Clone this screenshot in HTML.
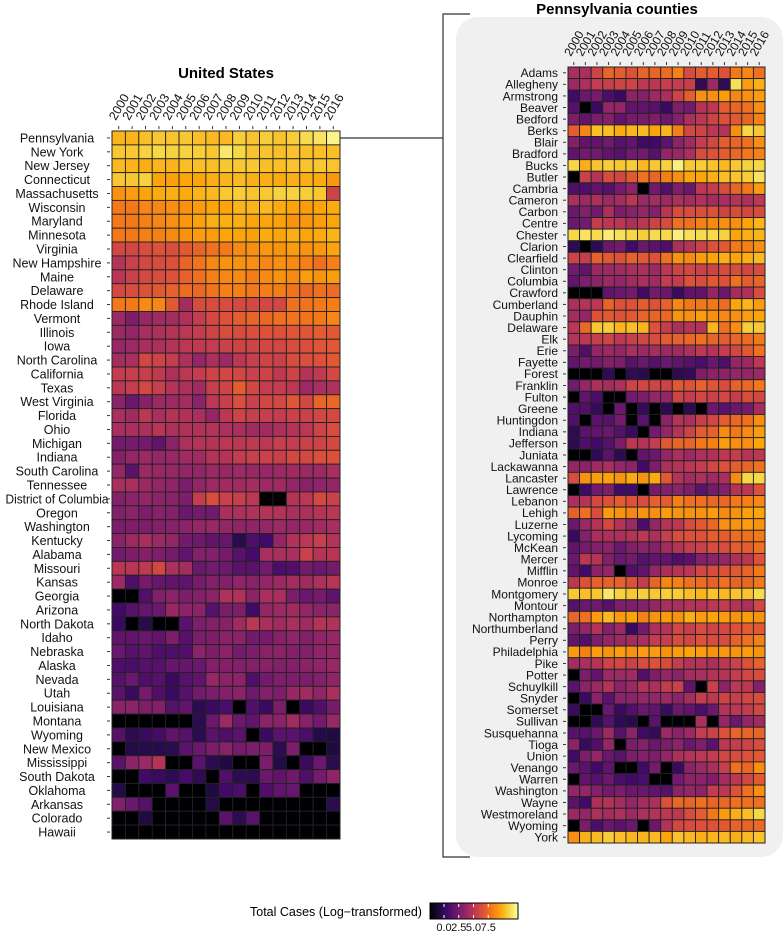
<!DOCTYPE html>
<html><head><meta charset="utf-8">
<style>
html,body{margin:0;padding:0;background:#fff;}
svg{display:block;font-family:"Liberation Sans",Arial,sans-serif;}
</style></head>
<body>
<svg id="chart" width="784" height="934" viewBox="0 0 784 934">
  <defs>
    <linearGradient id="inferno" x1="0" x2="1" y1="0" y2="0">
      <stop offset="0" stop-color="#000004"/><stop offset="0.1" stop-color="#160b39"/>
      <stop offset="0.2" stop-color="#420a68"/><stop offset="0.3" stop-color="#6a176e"/>
      <stop offset="0.4" stop-color="#932667"/><stop offset="0.5" stop-color="#bc3754"/>
      <stop offset="0.6" stop-color="#dd513a"/><stop offset="0.7" stop-color="#f37819"/>
      <stop offset="0.8" stop-color="#fca50a"/><stop offset="0.9" stop-color="#f6d746"/>
      <stop offset="1" stop-color="#fcffa4"/>
    </linearGradient>
  </defs>
  <rect x="456" y="17" width="327" height="840" rx="22" fill="#f0f0f0"/>
  <path d="M470 14 H443 V857 H470" fill="none" stroke="#333" stroke-width="1.2"/>
  <line x1="340" y1="138" x2="443" y2="138" stroke="#333" stroke-width="1.2"/>
  <text x="226" y="78" text-anchor="middle" font-size="15" font-weight="bold">United States</text>
  <text x="617" y="14" text-anchor="middle" font-size="15" font-weight="bold">Pennsylvania counties</text>
  <g id="us"></g>
  <g id="pa"></g>
  <g>
    <text x="250" y="916" font-size="12.5">Total Cases (Log−transformed)</text>
    <rect x="430" y="903" width="88" height="16" fill="url(#inferno)" stroke="#000" stroke-width="1"/>
    <g id="legendticks"></g>
  </g>
</svg>
<script>
const years = ["2000","2001","2002","2003","2004","2005","2006","2007","2008","2009","2010","2011","2012","2013","2014","2015","2016"];
const usStates = ["Pennsylvania","New York","New Jersey","Connecticut","Massachusetts","Wisconsin","Maryland","Minnesota","Virginia","New Hampshire","Maine","Delaware","Rhode Island","Vermont","Illinois","Iowa","North Carolina","California","Texas","West Virginia","Florida","Ohio","Michigan","Indiana","South Carolina","Tennessee","District of Columbia","Oregon","Washington","Kentucky","Alabama","Missouri","Kansas","Georgia","Arizona","North Dakota","Idaho","Nebraska","Alaska","Nevada","Utah","Louisiana","Montana","Wyoming","New Mexico","Mississippi","South Dakota","Oklahoma","Arkansas","Colorado","Hawaii"];
const usValues = [
[8.3,8.3,8.5,8.7,8.6,8.7,8.5,8.4,8.4,8.8,8.6,8.8,8.6,8.8,9.1,9.3,9.7],
[8.7,8.7,8.9,9,8.9,8.9,8.8,8.7,9.4,9,8.6,8.6,8.5,8.6,8.5,8.5,8.5],
[8.4,8.3,8.2,8.3,8.3,8.5,8.5,8.5,8.7,8.7,8.7,8.5,8.5,8.6,8.6,8.7,8.6],
[8.7,8.7,8.9,8.0,7.9,8.0,8.0,8.2,8.3,8.4,8.2,8.2,8.1,8.2,8.2,8.1,7.7],
[7.6,7.8,8.0,8.1,8.2,8.1,8.3,8.4,8.7,8.8,8.6,8.7,8.9,8.9,8.8,8.7,5.5],
[7.0,7.0,7.3,7.3,7.5,7.6,7.8,8.0,8.0,8.3,8.3,8.4,8.1,8.0,7.8,8.0,8.1],
[7.0,7.0,7.2,7.3,7.5,7.7,7.9,8.2,8.2,8.2,8.0,8.0,7.9,7.6,7.7,7.8,8.0],
[7.0,7.0,7.2,7.2,7.4,7.6,7.8,7.8,8.0,8.0,7.9,8.1,8.0,8.2,8.0,8.1,8.3],
[5.6,5.6,5.9,6.0,5.9,6.2,6.5,6.8,7.0,7.4,7.5,7.7,7.6,7.8,7.6,7.7,8.0],
[4.8,5.4,5.7,5.8,6.0,6.5,6.9,7.3,7.6,7.6,7.5,7.3,7.5,7.4,7.2,6.8,7.2],
[4.9,5.4,5.7,5.8,6.0,6.4,6.8,7.2,7.3,7.4,7.1,7.4,7.6,7.4,7.8,7.6,7.8],
[5.7,5.8,6.0,6.2,6.4,6.7,6.6,6.9,7.2,7.2,7.0,7.1,7.1,6.9,6.6,6.8,6.7],
[7.0,7.0,7.4,7.3,6.2,4.4,5.8,5.8,5.8,5.7,5.7,5.6,5.6,6.8,6.9,7.0,7.1],
[4.2,3.5,4.1,4.3,4.4,4.7,5.2,5.7,6.0,6.3,6.5,6.6,6.8,6.9,6.9,7.0,7.3],
[4.2,4.0,4.5,4.6,4.8,5.0,5.2,5.5,5.8,5.8,5.9,6.0,6.0,6.1,6.1,6.3,6.2],
[4.1,4.2,4.5,4.6,4.8,5.0,5.1,5.2,5.4,5.5,5.5,5.6,5.6,5.8,5.9,6.1,6.2],
[4.4,4.5,5.6,5.5,5.2,4.6,4.0,4.6,4.2,5.0,5.3,5.5,5.4,5.8,5.9,6.0,6.2],
[5.2,5.3,5.3,5.1,4.6,5.0,5.2,5.5,5.6,5.6,5.4,5.5,5.1,5.5,4.8,5.1,5.7],
[5.0,5.2,5.7,5.3,4.8,4.6,4.3,5.3,5.5,6.3,5.6,5.2,5.2,5.0,4.2,4.5,4.7],
[3.8,3.0,3.7,4.2,4.2,4.4,3.8,5.0,5.3,5.9,5.4,5.6,5.7,6.1,5.6,6.5,6.6],
[4.5,4.3,5.0,4.5,4.8,4.7,4.5,4.0,5.0,5.5,5.3,5.3,5.2,5.4,5.4,5.6,5.7],
[4.5,4.5,4.6,4.9,4.6,4.7,4.7,4.8,4.6,4.5,4.3,4.3,4.6,4.8,5.0,5.5,5.8],
[3.3,3.3,3.2,2.8,3.8,4.6,4.8,4.8,5.0,5.0,5.1,5.0,5.3,5.2,5.4,5.5,5.7],
[3.6,4.0,4.2,4.0,4.1,4.3,4.3,4.8,4.8,5.2,5.3,5.4,5.3,5.7,5.7,5.9,6.0],
[4.0,2.6,4.2,4.1,4.1,4.0,4.0,4.2,4.1,4.2,4.1,4.1,4.2,4.3,4.2,4.2,4.5],
[4.5,4.5,4.2,4.0,3.9,3.4,4.0,4.2,4.3,4.3,4.4,4.2,4.3,4.0,3.7,3.9,4.0],
[3.6,3.8,4.0,3.8,3.7,3.5,5.2,5.8,5.4,5.3,5.0,0,0,4.8,5.0,5.7,5.4],
[3.6,3.8,3.5,3.7,3.6,3.0,3.2,3.2,4.5,4.6,4.7,4.8,4.8,4.5,4.6,4.8,5.0],
[3.4,3.5,3.5,3.6,3.7,3.8,4.0,4.1,4.0,3.9,3.9,4.0,4.2,4.0,4.1,4.3,4.5],
[3.8,4.2,4.5,4.2,4.0,3.2,3.1,2.8,2.9,1.4,2.3,2.0,4.0,4.7,5.0,5.3,4.8],
[3.2,3.5,3.6,3.5,3.3,2.8,3.6,3.6,3.3,2.5,2.1,4.5,4.5,4.5,5.4,4.8,4.9],
[5.0,4.9,5.1,5.6,4.6,4.4,3.0,3.2,3.1,2.6,2.6,3.2,2.2,2.4,3.3,3.0,3.3],
[4.2,2.3,3.3,2.9,2.8,2.7,3.3,3.6,3.6,3.9,3.7,4.0,4.2,4.4,4.3,4.6,4.9],
[0,0,2.4,3.6,3.8,3.5,3.6,3.8,4.7,4.7,3.8,4.5,4.5,3.4,3.0,3.3,2.7],
[2.0,2.5,2.9,3.0,4.1,3.8,3.8,2.5,3.4,3.5,2.0,4.0,4.2,4.3,4.0,3.8,3.8],
[1.8,0,1.4,0,0,2.6,3.5,3.6,3.7,4.3,5.0,4.5,4.3,4.5,4.3,4.8,4.7],
[2.8,2.8,3.0,2.8,3.5,2.5,3.4,3.5,3.7,3.8,3.2,3.3,3.7,3.9,3.6,3.9,4.1],
[3.0,2.5,2.8,2.3,2.3,2.4,3.8,3.5,3.8,3.3,3.5,3.7,3.8,3.6,3.6,3.9,4.0],
[2.3,2.2,2.5,2.5,2.9,2.9,3.0,3.6,3.6,3.6,3.6,3.7,3.6,3.6,3.8,3.9,4.1],
[2.5,3.0,2.3,2.5,1.8,2.5,2.8,4.1,3.8,3.8,2.3,3.2,3.5,3.5,3.4,3.6,3.9],
[2.6,1.8,3.3,2.4,1.8,2.5,3.2,3.4,3.6,3.8,3.1,3.6,3.5,4.1,4.3,3.9,4.5],
[3.8,3.8,3.5,3.6,2.5,2.8,1.5,1.8,2.2,0,2.4,1.8,3.4,0,1.8,2.4,3.3],
[0,0,0,0,0,0,1.5,3.0,4.2,3.0,2.8,3.8,3.8,4.3,3.7,3.2,4.1],
[2.5,1.5,1.8,2.1,2.8,2.5,1.5,2.6,2.3,2.6,0,1.8,2.6,2.6,2.2,1.3,1.2],
[0,1.3,1.4,1.4,1.5,2.6,3.0,3.4,3.7,3.3,3.4,3.5,1.5,3.4,0,0,1.2],
[2.6,3.8,4.2,4.8,0,0,2.6,1.5,1.2,0,0,3.4,1.3,0,1.8,3.0,1.5],
[0,0,2.0,1.8,1.5,2.1,1.6,0,2.4,1.5,1.5,3.0,2.8,3.1,2.3,3.3,3.9],
[1.3,0,0,0,2.6,0,0,1.2,2.0,2.2,0,2.3,2.8,2.9,0,0,0],
[3.6,3.0,2.5,0,0,0,0,1.3,0,0,0,0,0,0,0,0,1.5],
[0,0,1.2,0,0,0,0,0,2.6,1.5,2.6,0,0,0,0,0,0],
[0,0,0,0,0,0,0,0,0,0,0,0,0,0,0,0,0]
];
const paCounties = ["Adams","Allegheny","Armstrong","Beaver","Bedford","Berks","Blair","Bradford","Bucks","Butler","Cambria","Cameron","Carbon","Centre","Chester","Clarion","Clearfield","Clinton","Columbia","Crawford","Cumberland","Dauphin","Delaware","Elk","Erie","Fayette","Forest","Franklin","Fulton","Greene","Huntingdon","Indiana","Jefferson","Juniata","Lackawanna","Lancaster","Lawrence","Lebanon","Lehigh","Luzerne","Lycoming","McKean","Mercer","Mifflin","Monroe","Montgomery","Montour","Northampton","Northumberland","Perry","Philadelphia","Pike","Potter","Schuylkill","Snyder","Somerset","Sullivan","Susquehanna","Tioga","Union","Venango","Warren","Washington","Wayne","Westmoreland","Wyoming","York"];
const paValues = [
[4.5,4.5,5.5,6.5,6.3,6.0,6.5,6.5,6.7,7.2,5.8,6.3,6.3,6.0,7.0,7.3,6.8],
[4.2,4.6,5.2,5.3,5.5,5.5,5.0,5.0,5.3,5.2,5.3,1.6,4.2,1.6,9.2,7.8,8.2],
[2.0,3.0,3.3,2.2,1.8,3.8,3.6,4.2,4.5,5.5,6.3,7.5,7.5,7.8,7.3,7.5,7.8],
[2.5,0,1.8,4.0,4.0,2.8,2.8,2.5,1.8,3.5,3.2,4.8,5.0,6.3,6.5,6.8,7.5],
[3.4,2.8,3.4,3.6,2.8,3.3,3.3,3.5,3.0,3.6,4.5,5.0,5.5,6.0,6.2,6.5,7.2],
[6.3,7.3,8.5,8.5,8.1,8.3,8.4,8.0,8.3,7.2,5.6,5.5,5.0,4.8,7.5,9.0,8.7],
[3.6,2.8,2.8,3.2,2.5,2.8,2.0,2.0,2.6,3.8,4.3,5.2,5.6,6.3,6.5,6.8,7.5],
[2.8,3.2,3.2,2.8,2.5,3.2,3.2,2.5,4.0,4.1,4.5,5.8,6.0,6.3,6.6,7.0,7.2],
[9.0,8.2,8.6,8.8,8.7,8.8,8.4,8.7,8.9,9.6,8.7,8.8,8.6,8.4,8.7,8.9,9.0],
[0,5.4,4.8,5.8,5.6,6.2,6.8,6.5,7.2,7.5,8.0,8.0,8.2,8.5,8.6,8.8,9.3],
[2.3,2.3,2.8,2.5,3.3,3.8,0,3.2,2.4,3.5,3.0,5.0,5.2,5.8,6.5,7.0,7.8],
[4.5,4.2,4.6,4.2,4.4,5.0,4.2,4.4,4.2,4.6,4.4,4.7,4.4,4.5,4.8,4.6,5.0],
[3.0,3.6,3.2,4.6,3.5,3.7,4.0,3.6,4.9,5.8,5.8,5.9,6.0,5.5,5.8,5.6,5.8],
[3.0,3.2,5.2,5.0,5.0,4.6,5.0,5.5,5.8,6.8,6.8,7.2,7.4,7.5,7.5,8.0,8.3],
[9.0,9.3,9.1,9.5,9.2,9.0,8.8,9.1,9.1,9.6,9.2,9.1,9.1,8.9,8.0,8.2,8.3],
[1.5,0,1.5,3.0,3.2,2.0,3.0,2.6,2.3,4.6,4.8,5.4,6.0,6.2,7.0,7.2,7.5],
[5.5,5.2,6.4,6.2,6.0,6.4,6.2,6.0,6.8,7.6,7.4,7.8,8.0,8.2,8.0,8.2,8.4],
[3.2,2.8,4.2,4.2,4.3,4.5,4.6,4.2,5.0,5.5,5.6,5.4,5.5,5.8,5.8,5.6,5.8],
[2.8,3.5,3.8,4.2,4.0,4.3,4.5,4.3,5.2,5.2,6.0,5.8,6.2,6.0,6.8,6.3,6.5],
[0,0,0,2.8,3.0,3.2,2.0,3.2,3.0,1.8,2.8,2.8,4.0,3.0,4.4,4.6,5.8],
[4.6,4.8,5.0,6.5,6.0,6.0,6.3,6.0,6.4,7.3,7.0,7.0,7.0,6.7,8.0,8.3,7.8],
[4.4,4.0,6.0,6.2,6.0,6.2,6.5,6.5,6.6,7.6,7.5,7.8,7.5,7.3,7.5,7.8,8.0],
[5.0,6.6,8.7,8.8,8.3,8.5,8.3,6.0,5.2,4.6,4.8,4.8,8.3,6.8,7.5,8.8,8.7],
[4.8,5.0,5.3,5.5,5.0,5.3,5.6,5.8,6.3,6.4,6.6,6.8,6.5,6.3,6.5,6.7,7.0],
[3.4,2.4,4.0,4.2,4.0,4.5,4.2,4.4,4.2,4.3,4.6,5.0,4.8,5.2,5.6,6.2,6.8],
[2.8,3.2,3.2,3.6,3.5,2.5,3.0,2.5,3.0,2.8,2.5,2.2,3.0,2.3,4.0,4.2,5.0],
[0,0,0,1.6,0,1.6,1.4,0,0,1.5,1.7,3.5,3.8,3.8,4.0,4.0,4.2],
[3.2,4.0,4.6,4.4,4.6,5.5,5.6,5.5,5.5,6.2,6.0,6.4,6.1,5.8,6.4,6.6,7.0],
[0,2.8,2.2,0,0,3.2,3.5,4.0,4.0,5.5,5.2,5.6,5.4,5.6,5.2,5.8,5.6],
[2.4,2.4,1.7,0,3.0,0,1.7,0,1.5,0,1.5,0,3.0,2.6,3.0,3.3,4.4],
[2.4,0,2.6,2.5,3.3,0,2.6,0,3.8,4.8,4.6,5.3,5.6,6.3,6.6,6.8,7.5],
[1.5,2.6,2.8,3.0,2.5,1.8,0,3.2,4.0,4.8,5.5,6.3,6.4,7.4,7.0,7.4,7.8],
[1.5,2.3,2.0,2.5,3.4,5.0,4.8,5.2,6.2,6.5,6.5,7.0,7.2,7.8,7.5,7.5,8.0],
[0,0,1.6,2.6,1.5,0,2.8,3.0,4.0,4.5,4.2,4.6,4.7,5.0,5.2,4.8,5.0],
[4.0,3.8,4.3,4.5,4.0,3.8,2.0,3.5,4.6,4.8,5.0,5.2,5.6,6.0,6.3,6.5,6.8],
[5.8,7.6,7.8,7.9,7.6,8.1,7.6,8.1,6.2,4.8,4.3,4.6,4.3,4.5,7.4,9.0,9.0],
[0,2.0,3.2,3.5,2.0,2.0,0,3.3,3.6,3.8,3.5,2.6,3.3,3.6,4.8,5.0,6.0],
[4.6,4.8,5.7,6.0,6.3,6.0,5.8,6.4,6.3,7.2,6.8,6.8,6.6,6.6,7.0,7.2,7.3],
[6.4,6.8,5.8,7.8,7.6,7.3,7.6,7.5,7.8,7.6,7.6,7.6,7.8,7.4,7.6,7.9,8.0],
[3.0,4.2,4.8,5.7,4.8,4.2,2.2,4.0,4.8,5.0,5.8,6.2,6.6,7.5,7.6,7.8,7.6],
[1.8,3.6,4.5,4.6,4.6,4.8,5.0,4.6,5.3,5.8,6.0,6.0,6.3,6.3,6.7,6.8,7.0],
[2.8,3.3,3.6,3.8,3.0,3.6,3.8,3.6,4.4,4.8,5.2,5.4,5.8,5.8,6.3,6.3,6.8],
[3.0,5.0,4.8,3.6,3.0,3.2,2.5,2.8,2.8,2.3,2.6,3.6,3.8,4.0,4.6,5.0,6.0],
[2.8,2.0,3.8,4.0,0,2.4,2.8,4.0,4.6,4.8,5.0,5.6,5.8,6.0,6.2,6.5,7.0],
[5.0,6.0,6.4,6.4,6.4,6.0,5.2,6.5,7.3,7.2,6.8,6.7,6.4,6.8,6.5,6.6,7.0],
[8.7,8.5,8.7,9.4,8.9,8.7,8.8,8.7,8.8,8.8,8.5,8.3,8.6,8.4,8.6,8.6,9.1],
[2.5,3.0,3.1,2.5,3.5,3.5,3.6,4.0,4.5,4.5,4.8,4.8,5.0,5.2,4.8,4.6,5.6],
[6.5,6.8,7.8,8.4,7.8,8.0,7.2,7.6,7.8,7.6,8.2,7.8,8.0,7.8,7.6,7.8,7.6],
[3.4,4.0,4.8,3.6,4.2,1.8,3.2,4.6,4.8,5.6,5.3,5.8,5.5,5.7,6.0,6.3,6.2],
[2.8,2.4,3.5,4.0,4.2,4.4,4.5,5.2,5.3,5.8,5.6,6.0,5.8,5.8,6.4,6.8,7.2],
[7.8,7.2,7.8,7.6,7.8,7.6,7.8,7.8,7.6,7.8,8.0,7.8,7.6,7.7,7.6,7.8,7.6],
[4.4,4.5,4.8,5.5,5.6,5.4,5.8,6.0,5.8,5.2,4.8,4.8,4.5,5.0,5.4,6.0,6.4],
[0,3.4,2.8,4.2,4.2,4.3,2.4,3.5,4.0,3.8,4.4,4.5,4.8,4.8,5.2,5.6,5.8],
[2.6,3.8,4.2,4.8,3.8,4.2,4.8,4.6,5.2,5.4,2.8,0,5.4,3.8,5.0,5.0,3.6],
[0,1.8,3.8,2.6,3.8,3.8,4.0,4.0,4.2,3.8,4.4,5.2,5.0,5.5,5.3,5.6,5.8],
[1.8,0,0,3.0,1.8,2.4,3.0,2.8,1.8,3.0,2.8,2.2,3.0,4.8,5.0,5.2,5.6],
[0,0,1.6,2.5,1.6,1.4,0,2.6,0,0,0,4.5,0,4.0,3.0,4.0,4.3],
[2.5,2.5,3.0,4.2,2.5,3.8,2.0,1.7,4.2,3.8,4.2,5.2,5.4,6.0,6.5,6.5,6.5],
[3.8,1.8,2.4,4.0,0,3.4,3.6,3.0,3.4,3.8,3.0,3.5,2.6,5.0,5.2,5.5,5.8],
[2.0,3.5,4.0,3.0,2.6,3.4,3.6,3.5,4.0,4.6,4.8,5.0,5.2,5.6,5.8,6.0,6.2],
[3.0,2.6,2.0,2.8,0,0,2.0,3.3,0,1.8,3.8,4.2,4.5,5.3,6.8,6.6,7.5],
[0,2.8,2.5,3.0,2.2,2.0,2.2,0,0,3.2,3.8,3.8,3.5,4.4,5.0,5.6,6.2],
[4.0,4.0,3.6,3.2,3.4,3.0,3.0,2.8,2.5,3.8,4.0,3.8,5.2,5.0,6.0,6.8,7.5],
[2.6,2.0,4.6,4.8,4.4,4.0,4.4,4.6,6.0,6.6,6.5,6.8,6.5,6.6,6.8,6.8,6.8],
[4.2,4.0,4.6,4.4,4.6,4.2,4.6,4.8,5.0,5.0,5.8,6.3,7.0,7.8,8.2,8.5,9.0],
[0,3.4,2.2,3.0,2.6,3.0,0,3.0,4.8,5.6,5.8,6.0,6.0,6.2,6.4,6.5,6.6],
[7.5,8.2,8.4,8.8,8.5,8.3,8.3,8.4,8.0,8.6,8.4,8.2,8.3,8.4,8.2,8.4,8.6]
];
const legendTicks = [0, 2.5, 5, 7.5];
const legendTickLabels = ["0.0","2.5","5.0","7.5"];

const NS = "http://www.w3.org/2000/svg";
const stops = [[0,[0,0,4]],[0.1,[22,11,57]],[0.2,[66,10,104]],[0.3,[106,23,110]],[0.4,[147,38,103]],[0.5,[188,55,84]],[0.6,[221,81,58]],[0.7,[243,120,25]],[0.8,[252,165,10]],[0.9,[246,215,70]],[1,[252,255,164]]];
const VMIN = 0, VMAX = 10;
function color(v){
  let t = Math.max(0, Math.min(1, (v - VMIN) / (VMAX - VMIN)));
  for (let i = 1; i < stops.length; i++) {
    if (t <= stops[i][0]) {
      const a = stops[i-1], b = stops[i], f = (t - a[0]) / (b[0] - a[0]);
      const c = a[1].map((x, k) => Math.round(x + (b[1][k] - x) * f));
      return `rgb(${c[0]},${c[1]},${c[2]})`;
    }
  }
  return "rgb(252,255,164)";
}
function mk(tag, attrs, parent){
  const e = document.createElementNS(NS, tag);
  for (const k in attrs) e.setAttribute(k, attrs[k]);
  parent.appendChild(e);
  return e;
}
function drawHeatmap(g, rows, values, x0, y0, cw, ch, fs, yfs, labelPrefix, yearY, centerX, maxW){
  const xScale = j => x0 + j * cw;
  const yScale = i => y0 + i * ch;
  values.forEach((row, i) => {
    row.forEach((v, j) => {
      const r = mk("rect", {x: xScale(j), y: yScale(i), width: cw, height: ch, fill: color(v), stroke: "#222", "stroke-width": 0.9}, g);
      
      
    });
  });
  rows.forEach((name, i) => {
    const attrs = centerX
      ? {x: centerX, y: yScale(i) + ch / 2 + fs * 0.36, "text-anchor": "middle", "font-size": fs, fill: "#111"}
      : {x: x0 - 10, y: yScale(i) + ch / 2 + fs * 0.36, "text-anchor": "end", "font-size": fs, fill: "#111"};
    const t = mk("text", attrs, g);
    t.textContent = name;
    
    
    if (maxW && t.getComputedTextLength() > maxW) {
      t.setAttribute("textLength", maxW);
      t.setAttribute("lengthAdjust", "spacingAndGlyphs");
    }
    const tk = mk("line", {x1: x0 - 5, x2: x0 - 2, y1: yScale(i) + ch / 2, y2: yScale(i) + ch / 2, stroke: "#333", "stroke-width": 1}, g);
    
    
  });
  years.forEach((yr, j) => {
    const cx = xScale(j) + cw / 2;
    const tk = mk("line", {x1: cx, x2: cx, y1: y0 - 5, y2: y0 - 2, stroke: "#333", "stroke-width": 1}, g);
    
    
    const t = mk("text", {x: cx - 3, y: yearY, "font-size": yfs, fill: "#111", transform: `rotate(-60 ${cx - 3} ${yearY})`}, g);
    t.textContent = yr;
    
    
  });
  const border = mk("rect", {x: x0, y: y0, width: cw * years.length, height: ch * rows.length, fill: "none", stroke: "#222", "stroke-width": 1}, g);
  
  
}
drawHeatmap(document.getElementById("us"), usStates, usValues, 112, 131, 228/17, 708/51, 12.5, 12.5, "us", 121, 57, 103);
drawHeatmap(document.getElementById("pa"), paCounties, paValues, 568, 67, 197/17, 776/67, 12, 12, "pa", 57, 0, 0);

const lg = document.getElementById("legendticks");
const lx = v => 444 + v * 5.9;
legendTicks.forEach((v, i) => {
  const l = mk("line", {x1: lx(v), x2: lx(v), y1: 904, y2: 907, stroke: "#fff", "stroke-width": 1}, lg);
  
  
  const l2 = mk("line", {x1: lx(v), x2: lx(v), y1: 915, y2: 918, stroke: "#fff", "stroke-width": 1}, lg);
  
  
  const t = mk("text", {x: lx(v), y: 931, "text-anchor": "middle", "font-size": 11, fill: "#111"}, lg);
  t.textContent = legendTickLabels[i];
  
  
});
</script>
</body></html>
